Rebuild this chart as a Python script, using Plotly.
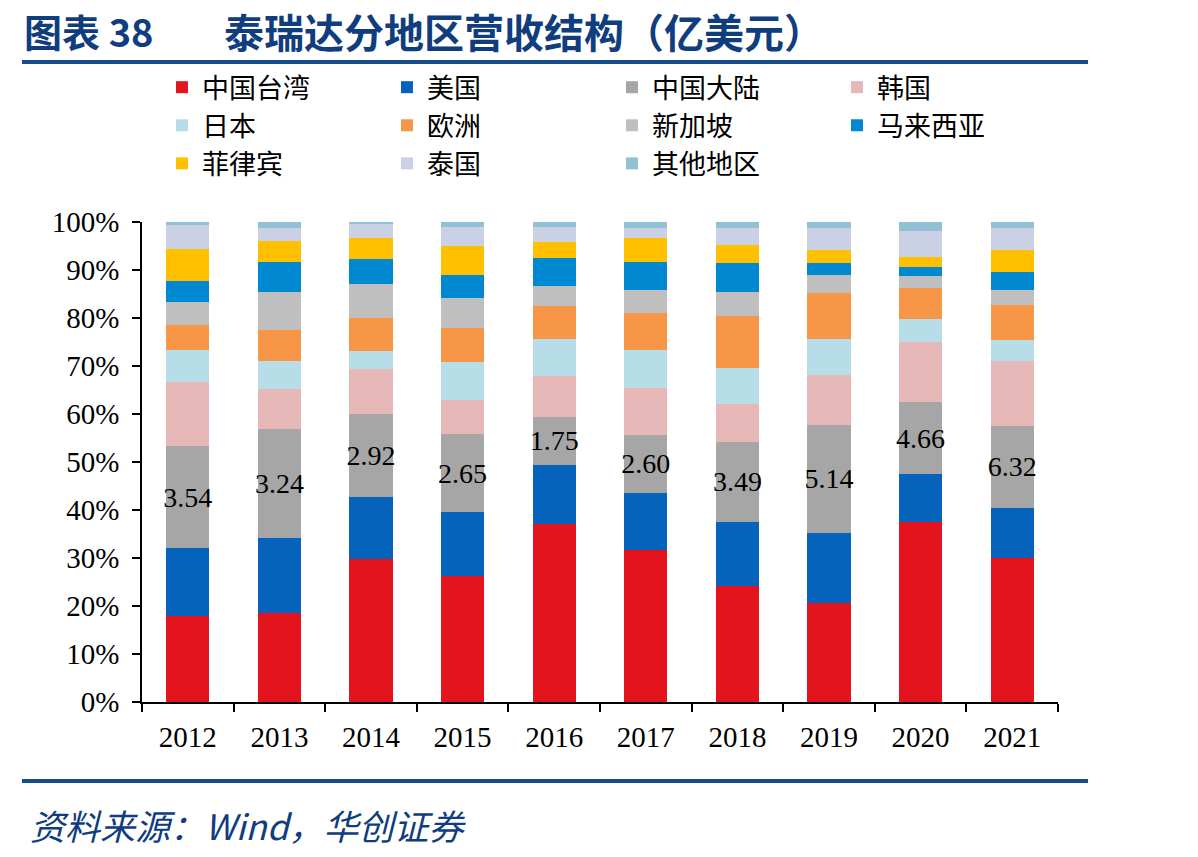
import plotly.graph_objects as go

years = ["2012", "2013", "2014", "2015", "2016", "2017", "2018", "2019", "2020", "2021"]

regions = ["中国台湾", "美国", "中国大陆", "韩国", "日本", "欧洲", "新加坡", "马来西亚", "菲律宾", "泰国", "其他地区"]

# share of revenue (%)
taiwan    = [17.9, 18.6, 29.7, 26.2, 37.0, 31.7, 24.2, 20.7, 37.6, 29.9]
usa       = [14.1, 15.6, 13.1, 13.4, 12.4, 11.9, 13.4, 14.6, 10.0, 10.6]
mainland  = [21.3, 22.6, 17.3, 16.2, 10.0, 12.0, 16.5, 22.4, 14.8, 17.0]
korea     = [13.4, 8.4, 9.2, 7.1, 8.5, 9.8, 7.9, 10.4, 12.7, 13.6]
japan     = [6.6, 5.8, 3.9, 8.0, 7.7, 7.9, 7.5, 7.5, 4.6, 4.3]
europe    = [5.2, 6.5, 6.7, 7.0, 7.0, 7.8, 10.9, 9.7, 6.6, 7.3]
singapore = [4.8, 8.0, 7.2, 6.2, 4.1, 4.7, 5.1, 3.7, 2.5, 3.1]
malaysia  = [4.5, 6.2, 5.1, 4.9, 5.9, 5.9, 5.9, 2.5, 1.9, 3.8]
philippines = [6.5, 4.3, 4.4, 5.9, 3.2, 4.9, 3.8, 2.7, 2.1, 4.6]
thailand  = [5.1, 2.7, 3.0, 4.1, 3.2, 2.1, 3.5, 4.5, 5.4, 4.5]
others    = [0.6, 1.3, 0.4, 1.0, 1.0, 1.3, 1.3, 1.3, 1.8, 1.3]

# 中国大陆 revenue labels (亿美元)
mainland_rev = ["3.54", "3.24", "2.92", "2.65", "1.75", "2.60", "3.49", "5.14", "4.66", "6.32"]

series = [taiwan, usa, mainland, korea, japan, europe, singapore, malaysia, philippines, thailand, others]
colors = ["#E3141D", "#0563BB", "#A6A6A6", "#E6B8B7", "#B7DEE8", "#F79646",
          "#BFBFBF", "#0088D1", "#FFC000", "#CBD1E4", "#92C0D4"]

fig = go.Figure()
for name, vals, col in zip(regions, series, colors):
    kw = {}
    if name == "中国大陆":
        kw = dict(text=mainland_rev, textposition="inside", insidetextanchor="middle",
                  textangle=0, constraintext="none",
                  insidetextfont=dict(family="Liberation Serif", size=28, color="black"))
    fig.add_trace(go.Bar(x=years, y=vals, name=name, marker=dict(color=col, line=dict(width=0)),
                         hoverinfo="skip", **kw))

blue = "#0F3D7E"
fig.update_layout(
    width=1198, height=857,
    barmode="stack", barnorm="percent", bargap=0.53,
    plot_bgcolor="white", paper_bgcolor="white",
    margin=dict(l=142, r=140, t=222, b=155),
    font=dict(family="Liberation Serif", size=29, color="black"),
    legend=dict(orientation="h", x=0.0218, xanchor="left", y=1.331, yanchor="top",
                entrywidth=180, entrywidthmode="pixels", traceorder="normal",
                font=dict(family="Noto Sans CJK SC", size=27, color="black"),
                bgcolor="rgba(0,0,0,0)"),
    xaxis=dict(showline=True, linecolor="black", linewidth=1.5, ticks="outside",
               tickson="boundaries", ticklen=8, tickwidth=1.5, tickcolor="black",
               ticklabelstandoff=8,
               showgrid=False, tickfont=dict(family="Liberation Serif", size=29)),
    yaxis=dict(range=[0, 100], dtick=10, ticksuffix="%", showline=True, linecolor="black",
               linewidth=1.5, ticks="outside", ticklen=8, tickwidth=1.5, tickcolor="black",
               ticklabelstandoff=7,
               showgrid=False, zeroline=False, tickfont=dict(family="Liberation Serif", size=29)),
    showlegend=True,
)

fig.add_annotation(text="<b>图表 38</b>", xref="paper", yref="paper",
                   x=-0.131, y=1.398, xanchor="left", yanchor="middle", showarrow=False,
                   font=dict(family="Noto Sans CJK SC", size=38, color=blue))
fig.add_annotation(text="<b>泰瑞达分地区营收结构（亿美元）</b>", xref="paper", yref="paper",
                   x=(222 - 142) / 916, y=1.398, xanchor="left", yanchor="middle", showarrow=False,
                   font=dict(family="Noto Sans CJK SC", size=40, color=blue))
fig.add_annotation(text="<i>资料来源：Wind，华创证券</i>", xref="paper", yref="paper",
                   x=-0.1245, y=-0.256, xanchor="left", yanchor="middle", showarrow=False,
                   font=dict(family="Noto Sans CJK SC", size=35, color=blue))
for yy in [1.3333, -0.1646]:
    fig.add_shape(type="line", xref="paper", yref="paper", x0=-0.131, x1=1.0328, y0=yy, y1=yy,
                  line=dict(color="#164B8C", width=4))

fig.write_html("out.html")
